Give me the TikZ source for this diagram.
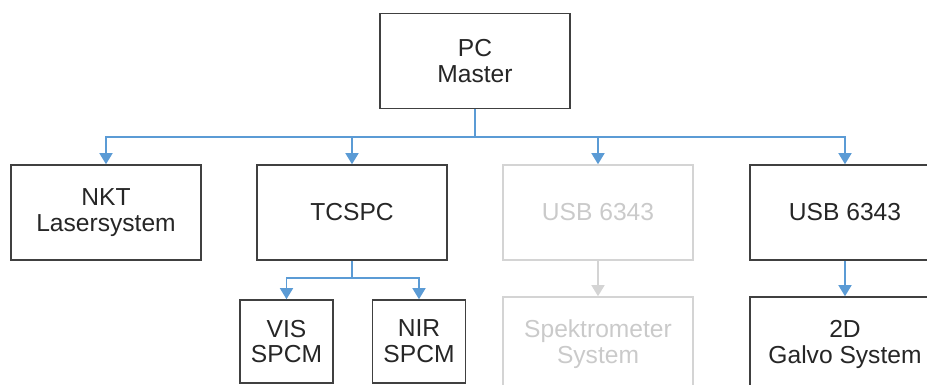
\documentclass[tikz,border=0pt]{standalone}
\usepackage{fontspec}
\setmainfont{Liberation Sans}
\usetikzlibrary{arrows.meta}

\definecolor{framegray}{HTML}{404040}
\definecolor{labelgray}{HTML}{262626}
\definecolor{fadedgray}{HTML}{D4D4D4}
\definecolor{fadedtext}{HTML}{CACACA}
\definecolor{linkblue}{HTML}{5B9BD5}

\begin{document}
\begin{tikzpicture}[x=0.02cm,y=-0.02cm,
		box/.style={draw=framegray, line width=0.9pt, text=labelgray,
			minimum width=3.8cm, minimum height=1.9cm, align=center,
			font=\fontsize{14}{14.7}\selectfont},
		smallbox/.style={box, minimum width=1.86cm, minimum height=1.66cm},
		faded/.style={box, draw=fadedgray, text=fadedtext},
		link/.style={draw=linkblue, line width=0.8pt,
			-{Triangle[width=0.26cm, length=0.22cm]}},
		fadedlink/.style={link, draw=fadedgray, fill=fadedgray}]
		\clip (0,0) rectangle (927,385);
		
		% Draw the boxes
		\node[box] (pc) at (475,61) {PC\\Master};
		\node[box] (nkt) at (106,212.5) {NKT\\Lasersystem};
		\node[box] (tcspc) at (352,212.5) {TCSPC};
		\node[faded] (usbA) at (598,212.5) {USB 6343};
		\node[box] (usbB) at (845,212.5) {USB 6343};
		\node[smallbox] (vis) at (286.5,341.5) {VIS\\SPCM};
		\node[smallbox] (nir) at (419,341.5) {NIR\\SPCM};
		\node[faded] (spek) at (598,344.5) {Spektrometer\\System};
		\node[box] (galvo) at (845,344.5) {2D\\Galvo System};
		
		% Draw the links
		\coordinate (bus) at (475,137);
		\coordinate (split) at (352,278);
		\draw[link, -] (pc) -- (bus);
		\draw[link] (bus) -| (nkt);
		\draw[link] (bus) -| (tcspc);
		\draw[link] (bus) -| (usbA);
		\draw[link] (bus) -| (usbB);
		\draw[link, -] (tcspc) -- (split);
		\draw[link] (split) -| (vis);
		\draw[link] (split) -| (nir);
		\draw[fadedlink] (usbA) -- (spek);
		\draw[link] (usbB) -- (galvo);
	\end{tikzpicture}
\end{document}
